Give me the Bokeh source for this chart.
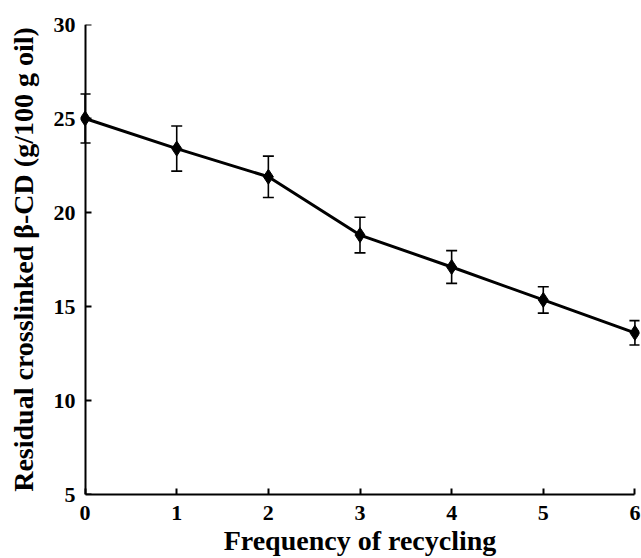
from bokeh.plotting import figure
from bokeh.models import ColumnDataSource, Whisker, TeeHead, Range1d, FixedTicker, LinearAxis
from bokeh.embed import file_html
from bokeh.resources import INLINE

cycles = [0, 1, 2, 3, 4, 5, 6]
residual = [25.0, 23.4, 21.9, 18.8, 17.1, 15.35, 13.6]
err = [1.3, 1.2, 1.1, 0.95, 0.87, 0.7, 0.65]
x_ticks = [0, 1, 2, 3, 4, 5, 6]
y_ticks = [5, 10, 15, 20, 25, 30]

upper = [v + e for v, e in zip(residual, err)]
lower = [v - e for v, e in zip(residual, err)]
src = ColumnDataSource(dict(x=cycles, y=residual, upper=upper, lower=lower))

FONT = "Liberation Serif"

p = figure(output_backend="svg", toolbar_location=None,
           frame_width=559, frame_height=470,
           min_border_left=80, min_border_right=2, min_border_top=24, min_border_bottom=64,
           x_range=Range1d(-0.05, 6.05), y_range=Range1d(5, 30))
p.outline_line_color = None
p.grid.grid_line_color = None

p.line("x", "y", source=src, line_width=3, line_color="black")
w = Whisker(base="x", upper="upper", lower="lower", source=src,
            line_width=1.6, line_color="black",
            upper_head=TeeHead(size=11, line_width=1.6, line_color="black"),
            lower_head=TeeHead(size=11, line_width=1.6, line_color="black"))
p.add_layout(w)
p.scatter("x", "y", source=src, marker="diamond", size=15, fill_color="black", line_color="black")


def style(ax):
    ax.axis_line_width = 2
    ax.axis_line_color = "black"
    ax.major_tick_line_width = 2
    ax.major_tick_line_color = "black"
    ax.major_tick_in = 6
    ax.major_tick_out = 0
    ax.minor_tick_line_color = None
    ax.major_label_text_font = FONT
    ax.major_label_text_font_style = "bold"
    ax.major_label_text_font_size = "22px"
    ax.major_label_text_color = "black"
    ax.axis_label_text_font = FONT
    ax.axis_label_text_font_style = "bold"
    ax.axis_label_text_font_size = "28px"
    ax.axis_label_text_color = "black"


xa = p.xaxis[0]
ya = p.yaxis[0]
style(xa)
style(ya)

xa.ticker = FixedTicker(ticks=x_ticks)
xa.bounds = (0, 6)
xa.axis_label = "Frequency of recycling"
xa.major_label_standoff = 11
xa.axis_label_standoff = 2

# left axis: labels and title only (frame edge sits just left of x = 0)
ya.ticker = FixedTicker(ticks=y_ticks)
ya.axis_line_color = None
ya.major_tick_line_color = None
ya.axis_label = "Residual crosslinked β-CD (g/100 g oil)"
ya.major_label_standoff = 5
ya.axis_label_standoff = 12

# axis line and ticks drawn exactly at x = 0
ya2 = LinearAxis(ticker=FixedTicker(ticks=y_ticks), fixed_location=0)
style(ya2)
ya2.major_label_text_color = None
p.add_layout(ya2, "left")

open("out.html", "w").write(file_html(p, INLINE))
